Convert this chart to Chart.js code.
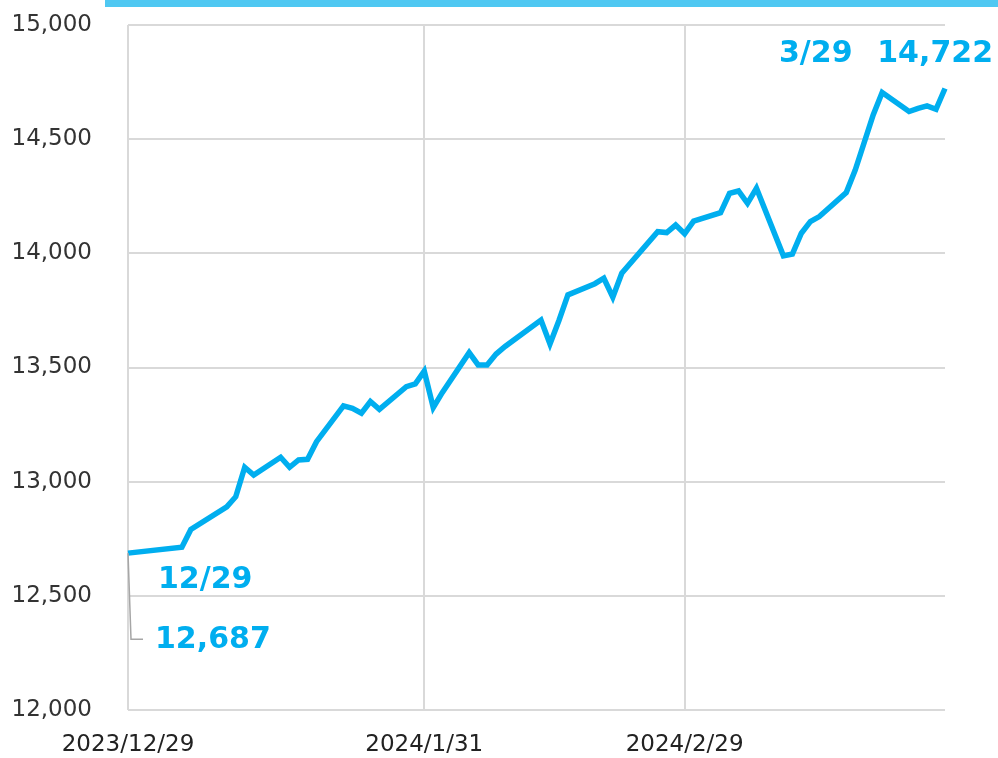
<!DOCTYPE html>
<html>
<head>
<meta charset="utf-8">
<script src="https://cdn.jsdelivr.net/npm/chart.js@4"></script>
<style>
  body { margin: 0; background: #fff; }
  #wrap { position: relative; width: 998px; height: 758px; }
  #topbar { position: absolute; left: 105px; top: 0; width: 893px; height: 7px; background: #4fc8f2; }
</style>
</head>
<body>
<div id="wrap">
  <canvas id="navChart" width="998" height="758"></canvas>
  <div id="topbar"></div>
</div>
<script>
const dates = [
  "2023-12-29", "2024-01-04", "2024-01-05", "2024-01-09", "2024-01-10", "2024-01-11", "2024-01-12",
  "2024-01-15", "2024-01-16", "2024-01-17", "2024-01-18", "2024-01-19",
  "2024-01-22", "2024-01-23", "2024-01-24", "2024-01-25", "2024-01-26",
  "2024-01-29", "2024-01-30", "2024-01-31", "2024-02-01", "2024-02-02",
  "2024-02-05", "2024-02-06", "2024-02-07", "2024-02-08", "2024-02-09",
  "2024-02-13", "2024-02-14", "2024-02-15", "2024-02-16",
  "2024-02-19", "2024-02-20", "2024-02-21", "2024-02-22",
  "2024-02-26", "2024-02-27", "2024-02-28", "2024-02-29", "2024-03-01",
  "2024-03-04", "2024-03-05", "2024-03-06", "2024-03-07", "2024-03-08",
  "2024-03-11", "2024-03-12", "2024-03-13", "2024-03-14", "2024-03-15",
  "2024-03-18", "2024-03-19", "2024-03-21", "2024-03-22",
  "2024-03-25", "2024-03-26", "2024-03-27", "2024-03-28", "2024-03-29"
];
const values = [
  12687, 12713, 12791, 12890, 12934, 13063, 13029,
  13107, 13063, 13095, 13098, 13175,
  13332, 13321, 13300, 13351, 13317,
  13416, 13428, 13484, 13324, 13390,
  13565, 13511, 13511, 13559, 13592,
  13708, 13603, 13706, 13818,
  13867, 13891, 13808, 13913,
  14095, 14091, 14124, 14086, 14141,
  14178, 14263, 14273, 14219, 14285,
  13989, 13997, 14088, 14139, 14161,
  14266, 14365, 14606, 14704,
  14621, 14635, 14646, 14631, 14722
];
const xTickDates = ["2023-12-29", "2024-01-31", "2024-02-29"];
const xTickLabels = ["2023/12/29", "2024/1/31", "2024/2/29"];
const endDate = "2024-03-29";
const startLabel = "12/29";
const startValueLabel = "12,687";
const endLabel = "3/29";
const endValueLabel = "14,722";

const blue = "#00aeef";
const gridColor = "#d9d9d9";

const dayOffset = (d) => (Date.parse(d) - Date.parse(dates[0])) / 86400000;
const points = dates.map((d, i) => ({ x: dayOffset(d), y: values[i] }));

// labels for first and last values plus the little grey leader line
const annotations = {
  id: "annotations",
  afterDatasetsDraw(chart) {
    const ctx = chart.ctx;
    const meta = chart.getDatasetMeta(0);
    const first = meta.data[0];
    const last = meta.data[meta.data.length - 1];

    ctx.save();
    ctx.strokeStyle = "#a6a6a6";
    ctx.lineWidth = 1.5;
    ctx.beginPath();
    ctx.moveTo(first.x, first.y);
    ctx.lineTo(first.x + 3, first.y + 86);
    ctx.lineTo(first.x + 15, first.y + 86);
    ctx.stroke();

    ctx.fillStyle = blue;
    ctx.font = "bold 30px 'DejaVu Sans'";
    ctx.textBaseline = "alphabetic";
    ctx.textAlign = "left";
    ctx.fillText(startLabel, first.x + 30, first.y + 35);
    ctx.fillText(startValueLabel, first.x + 27, first.y + 95);
    ctx.fillText(endLabel, last.x - 166, last.y - 26);

    ctx.textAlign = "right";
    ctx.fillText(endValueLabel, last.x + 48, last.y - 26);
    ctx.restore();
  }
};

new Chart(document.getElementById("navChart"), {
  type: "line",
  data: {
    datasets: [{
      data: points,
      borderColor: blue,
      borderWidth: 5.5,
      pointRadius: 0,
      tension: 0,
      clip: false,
      borderJoinStyle: "miter"
    }]
  },
  options: {
    responsive: false,
    animation: false,
    layout: { padding: { top: 25, right: 53, left: 0, bottom: 0 } },
    plugins: { legend: { display: false }, tooltip: { enabled: false } },
    scales: {
      x: {
        type: "linear",
        min: 0,
        max: dayOffset(endDate),
        afterBuildTicks: (scale) => {
          scale.ticks = xTickDates.map((d) => ({ value: dayOffset(d) }));
        },
        afterFit: (scale) => { scale.height = 48; },
        ticks: {
          padding: 21,
          color: "#222",
          font: { family: "'DejaVu Sans'", size: 23 },
          maxRotation: 0,
          callback: (v) => xTickLabels[xTickDates.findIndex((d) => dayOffset(d) === v)]
        },
        grid: { color: gridColor, lineWidth: 2, drawTicks: false },
        border: { display: false }
      },
      y: {
        min: 12000,
        max: 15000,
        afterFit: (scale) => {
          scale.width = 128;
          scale.paddingTop = 0;
          scale.paddingBottom = 0;
        },
        ticks: {
          stepSize: 500,
          padding: 36,
          color: "#333",
          font: { family: "'DejaVu Sans'", size: 23 },
          callback: (v) => v.toLocaleString("en-US")
        },
        grid: { color: gridColor, lineWidth: 2, drawTicks: false },
        border: { display: false }
      }
    }
  },
  plugins: [annotations]
});
</script>
</body>
</html>
